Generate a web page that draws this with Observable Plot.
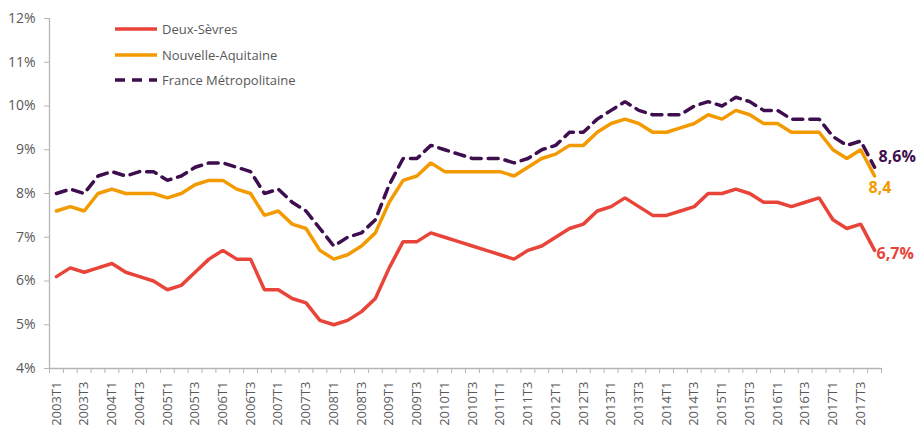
<!DOCTYPE html>
<html>
<head>
<meta charset="utf-8">
<script src="https://cdn.jsdelivr.net/npm/d3@7"></script>
<script src="https://cdn.jsdelivr.net/npm/@observablehq/plot@0.6"></script>
<style>
  html, body { margin: 0; padding: 0; background: #fff; }
  #wrap { position: relative; width: 916px; height: 426px; overflow: hidden; font-family: "Open Sans", sans-serif; }
  #legend { position: absolute; left: 115px; top: 16.5px; font-size: 13px; color: #595959; }
  .item { display: flex; align-items: center; height: 25.4px; }
  .item svg { margin-right: 5px; }
</style>
</head>
<body>
<div id="wrap"><div id="chart"></div><div id="legend"></div></div>
<script>
const quarters = [
  "2003T1","2003T2","2003T3","2003T4","2004T1","2004T2","2004T3","2004T4",
  "2005T1","2005T2","2005T3","2005T4","2006T1","2006T2","2006T3","2006T4",
  "2007T1","2007T2","2007T3","2007T4","2008T1","2008T2","2008T3","2008T4",
  "2009T1","2009T2","2009T3","2009T4","2010T1","2010T2","2010T3","2010T4",
  "2011T1","2011T2","2011T3","2011T4","2012T1","2012T2","2012T3","2012T4",
  "2013T1","2013T2","2013T3","2013T4","2014T1","2014T2","2014T3","2014T4",
  "2015T1","2015T2","2015T3","2015T4","2016T1","2016T2","2016T3","2016T4",
  "2017T1","2017T2","2017T3","2017T4"
];
const deuxSevres = [6.1,6.3,6.2,6.3, 6.4,6.2,6.1,6.0, 5.8,5.9,6.2,6.5, 6.7,6.5,6.5,5.8,
  5.8,5.6,5.5,5.1, 5.0,5.1,5.3,5.6, 6.3,6.9,6.9,7.1, 7.0,6.9,6.8,6.7,
  6.6,6.5,6.7,6.8, 7.0,7.2,7.3,7.6, 7.7,7.9,7.7,7.5, 7.5,7.6,7.7,8.0,
  8.0,8.1,8.0,7.8, 7.8,7.7,7.8,7.9, 7.4,7.2,7.3,6.7];
const nouvelleAquitaine = [7.6,7.7,7.6,8.0, 8.1,8.0,8.0,8.0, 7.9,8.0,8.2,8.3, 8.3,8.1,8.0,7.5,
  7.6,7.3,7.2,6.7, 6.5,6.6,6.8,7.1, 7.8,8.3,8.4,8.7, 8.5,8.5,8.5,8.5,
  8.5,8.4,8.6,8.8, 8.9,9.1,9.1,9.4, 9.6,9.7,9.6,9.4, 9.4,9.5,9.6,9.8,
  9.7,9.9,9.8,9.6, 9.6,9.4,9.4,9.4, 9.0,8.8,9.0,8.4];
const franceMetro = [8.0,8.1,8.0,8.4, 8.5,8.4,8.5,8.5, 8.3,8.4,8.6,8.7, 8.7,8.6,8.5,8.0,
  8.1,7.8,7.6,7.2, 6.8,7.0,7.1,7.4, 8.2,8.8,8.8,9.1, 9.0,8.9,8.8,8.8,
  8.8,8.7,8.8,9.0, 9.1,9.4,9.4,9.7, 9.9,10.1,9.9,9.8, 9.8,9.8,10.0,10.1,
  10.0,10.2,10.1,9.9, 9.9,9.7,9.7,9.7, 9.3,9.1,9.2,8.6];
const seriesNames = ["Deux-Sèvres", "Nouvelle-Aquitaine", "France Métropolitaine"];
const seriesColors = ["#E8443A", "#F39A00", "#3E0E4E"];
const endLabels = ["6,7%", "8,4", "8,6%"];
const yTicks = [4, 5, 6, 7, 8, 9, 10, 11, 12];

const seriesValues = [deuxSevres, nouvelleAquitaine, franceMetro];
const pos = (d, i) => i + 0.5;
const n = quarters.length;
const labelTicks = d3.range(0, n, 2).map(i => i + 0.5);
const boundaryTicks = d3.range(0, n + 1);
const gray = "#b5b5b5";

const lineMarks = seriesValues.map((vals, k) =>
  Plot.line(vals, {x: pos, y: d => d, stroke: seriesColors[k], strokeWidth: 3.5,
    strokeDasharray: k === 2 ? "10,7" : null, strokeLinejoin: "miter"}));

const endOffsets = [{dx: 2, dy: 3}, {dx: -6, dy: 12}, {dx: 4, dy: -10}];
const endMarks = seriesValues.map((vals, k) =>
  Plot.text([vals[n - 1]], {x: () => n - 0.5, y: d => d, text: () => endLabels[k],
    fill: seriesColors[k], fontWeight: "bold", fontSize: 16, textAnchor: "start",
    dx: endOffsets[k].dx, dy: endOffsets[k].dy}));

const chart = Plot.plot({
  width: 916, height: 426,
  marginTop: 18, marginBottom: 58, marginLeft: 49, marginRight: 35,
  x: {type: "linear", domain: [0, n]},
  y: {domain: [4, 12]},
  style: {fontFamily: "'Open Sans', sans-serif", fontSize: "14px", color: "#595959", background: "transparent"},
  marks: [
    Plot.ruleX([0], {stroke: gray, strokeWidth: 1.3}),
    Plot.ruleY([4], {stroke: gray, strokeWidth: 1.3}),
    Plot.axisY({ticks: yTicks, tickFormat: d => d + "%", tickSize: 5, tickPadding: 9, stroke: gray, label: null}),
    Plot.axisX({ticks: boundaryTicks, tickFormat: () => "", tickSize: 5, stroke: gray, label: null}),
    Plot.axisX({ticks: labelTicks, tickFormat: d => quarters[Math.round(d - 0.5)], tickSize: 0, tickPadding: 13, tickRotate: -90, fontSize: 13, label: null}),
    ...lineMarks,
    ...endMarks
  ]
});
document.getElementById("chart").appendChild(chart);

const legend = document.getElementById("legend");
seriesNames.forEach((name, k) => {
  const item = document.createElement("div");
  item.className = "item";
  const dash = k === 2 ? 'stroke-dasharray="10,7"' : "";
  item.innerHTML = `<svg width="42" height="6"><line x1="0" y1="3" x2="42" y2="3" stroke="${seriesColors[k]}" stroke-width="3.5" ${dash}/></svg><span>${name}</span>`;
  legend.appendChild(item);
});
</script>
</body>
</html>
